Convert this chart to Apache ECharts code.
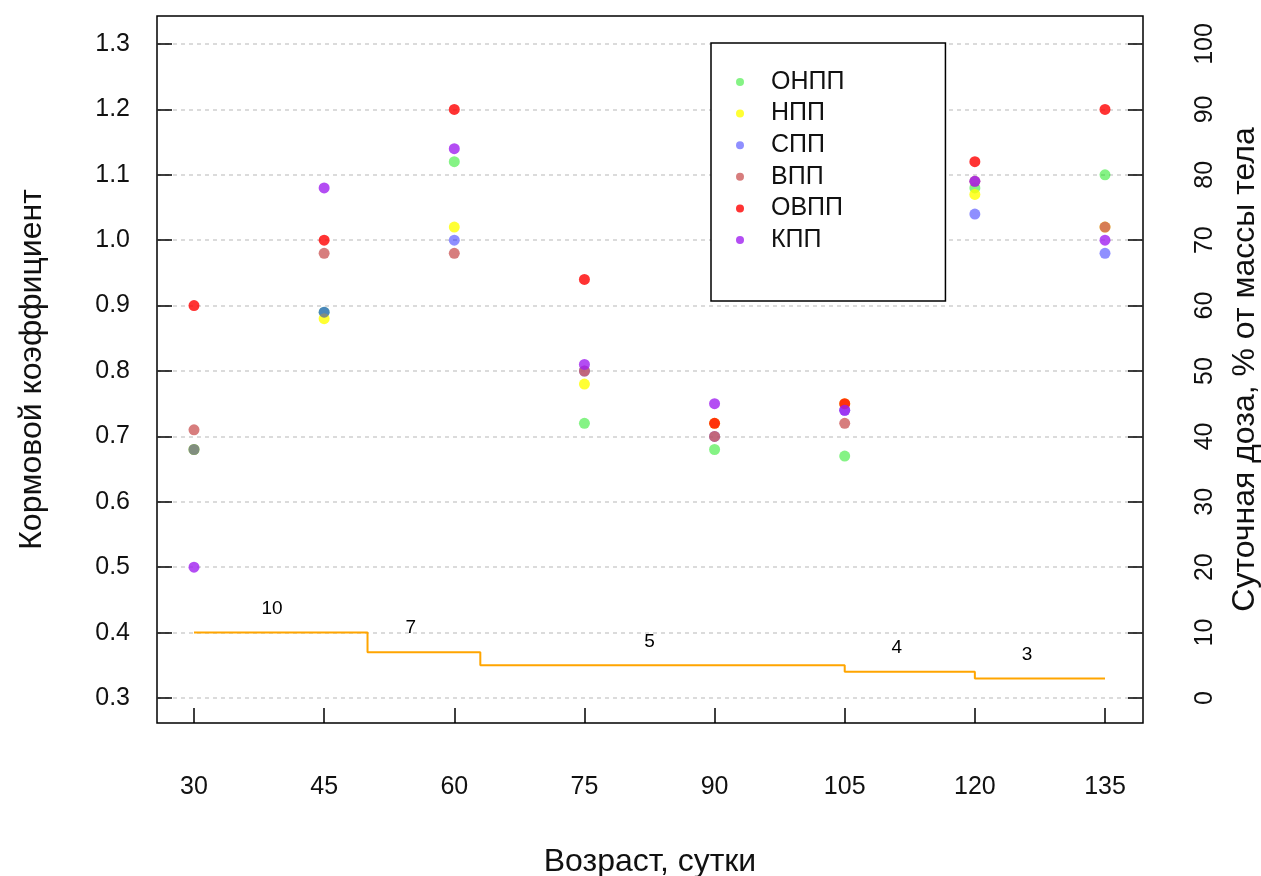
<!DOCTYPE html>
<html>
<head>
<meta charset="utf-8">
<script src="https://cdn.jsdelivr.net/npm/echarts@6/dist/echarts.min.js"></script>
<style>
  html, body { margin: 0; padding: 0; background: #fff; }
  #chart { width: 1261px; height: 876px; }
</style>
</head>
<body>
<div id="chart"></div>
<script>
// Age of the birds, days
const ages = [30, 45, 60, 75, 90, 105, 120, 135];

// Feed conversion ratio by treatment group
const onpp = [0.68, 0.89, 1.12, 0.72, 0.68, 0.67, 1.08, 1.10];
const npp  = [0.68, 0.88, 1.02, 0.78, 0.72, 0.75, 1.07, 1.02];
const spp  = [0.68, 0.89, 1.00, 0.80, 0.70, 0.74, 1.04, 0.98];
const vpp  = [0.71, 0.98, 0.98, 0.80, 0.70, 0.72, 1.09, 1.02];
const ovpp = [0.90, 1.00, 1.20, 0.94, 0.72, 0.75, 1.12, 1.20];
const kpp  = [0.50, 1.08, 1.14, 0.81, 0.75, 0.74, 1.09, 1.00];

// Daily dose, % of body mass: step boundaries (days) and value per step
const doseBreaks = [30, 50, 63, 105, 120, 135];
const doseValues = [10, 7, 5, 4, 3];
const doseLabelX = [39, 55, 82.5, 111, 126];

// Axis ticks
const xTicks = [30, 45, 60, 75, 90, 105, 120, 135];
const leftTicks = [0.3, 0.4, 0.5, 0.6, 0.7, 0.8, 0.9, 1.0, 1.1, 1.2, 1.3];
const rightTicks = [0, 10, 20, 30, 40, 50, 60, 70, 80, 90, 100];

const groups = [
  { name: 'ОНПП', values: onpp, color: 'rgba(0,230,0,0.6)' },
  { name: 'НПП',  values: npp,  color: '#ffff00' },
  { name: 'СПП',  values: spp,  color: 'rgba(0,0,255,0.55)' },
  { name: 'ВПП',  values: vpp,  color: '#cd5c5c' },
  { name: 'ОВПП', values: ovpp, color: '#ff0000' },
  { name: 'КПП',  values: kpp,  color: '#a020f0' }
];

const FONT = 'Liberation Sans, Arial, sans-serif';
const TXT = '#111';

const stepData = doseBreaks.map((x, i) => [x, doseValues[Math.min(i, doseValues.length - 1)]]);
const stepLabels = doseLabelX.map((x, i) => [x, doseValues[i]]);

const series = [
  {
    // horizontal dotted grid at the left-axis ticks
    type: 'scatter',
    name: '_grid',
    data: [],
    z: 0,
    silent: true,
    markLine: {
      silent: true,
      z: 0,
      symbol: ['none', 'none'],
      label: { show: false },
      lineStyle: { color: '#cfcfcf', type: [4, 4], width: 1.5 },
      emphasis: { disabled: true },
      animation: false,
      data: leftTicks.map(v => ({ yAxis: v }))
    }
  },
  {
    type: 'line',
    name: '_dose',
    yAxisIndex: 1,
    step: 'end',
    symbol: 'none',
    data: stepData,
    lineStyle: { color: '#ffa500', width: 2 },
    z: 1
  },
  {
    type: 'scatter',
    name: '_doseLabels',
    yAxisIndex: 1,
    symbolSize: 0,
    data: stepLabels,
    itemStyle: { opacity: 1 },
    label: {
      show: true,
      position: 'inside',
      offset: [0, -24],
      formatter: p => String(p.value[1]),
      fontFamily: FONT,
      fontSize: 19,
      color: '#000',
      opacity: 1
    },
    z: 1
  }
].concat(groups.map(g => ({
  type: 'scatter',
  name: g.name,
  symbol: 'circle',
  symbolSize: 11,
  itemStyle: { color: g.color },
  data: ages.map((a, i) => [a, g.values[i]]),
  z: 3
})));

const chart = echarts.init(document.getElementById('chart'), null, { renderer: 'canvas' });
chart.setOption({
  animation: false,
  backgroundColor: '#fff',
  textStyle: { fontFamily: FONT },
  grid: {
    left: 157, right: 118, top: 16, bottom: 153,
    containLabel: false,
    outerBoundsMode: 'none',
    show: true,
    borderColor: '#000',
    borderWidth: 1.5,
    backgroundColor: 'transparent'
  },
  legend: {
    data: groups.map(g => g.name),
    orient: 'vertical',
    left: 711,
    top: 43,
    padding: [24, 101, 46, 25],
    itemWidth: 8,
    itemHeight: 8,
    itemGap: 1.6,
    backgroundColor: '#fff',
    borderColor: '#000',
    borderWidth: 1.5,
    borderRadius: 0,
    textStyle: { fontFamily: FONT, fontSize: 25, color: TXT, lineHeight: 30, padding: [0, 0, 0, 22] },
    selectedMode: false
  },
  xAxis: {
    type: 'value',
    min: 25.735,
    max: 139.38,
    name: 'Возраст, сутки',
    nameLocation: 'middle',
    nameGap: 123,
    nameTextStyle: { fontFamily: FONT, fontSize: 32, color: TXT },
    axisLine: { show: false, onZero: false },
    axisTick: { show: true, inside: true, length: 15, customValues: xTicks, lineStyle: { color: '#000', width: 1.5 } },
    axisLabel: { customValues: xTicks, margin: 52, fontFamily: FONT, fontSize: 25, color: TXT },
    splitLine: { show: false }
  },
  yAxis: [
    {
      type: 'value',
      position: 'left',
      min: 0.2618,
      max: 1.3428,
      name: 'Кормовой коэффициент',
      nameLocation: 'middle',
      nameGap: 109,
      nameTextStyle: { fontFamily: FONT, fontSize: 32, color: TXT },
      axisLine: { show: false, onZero: false },
      axisTick: { show: true, inside: true, length: 15, customValues: leftTicks, lineStyle: { color: '#000', width: 1.5 } },
      axisLabel: { customValues: leftTicks, margin: 27, fontFamily: FONT, fontSize: 25, color: TXT, formatter: v => v.toFixed(1) },
      splitLine: { show: false }
    },
    {
      type: 'value',
      position: 'right',
      min: -3.82,
      max: 104.28,
      name: 'Суточная доза, % от массы тела',
      nameLocation: 'middle',
      nameGap: 86,
      nameTextStyle: { fontFamily: FONT, fontSize: 32, color: TXT },
      axisLine: { show: false, onZero: false },
      axisTick: { show: true, inside: true, length: 15, customValues: rightTicks, lineStyle: { color: '#000', width: 1.5 } },
      axisLabel: { customValues: rightTicks, rotate: 90, margin: 50, fontFamily: FONT, fontSize: 25, color: TXT },
      splitLine: { show: false }
    }
  ],
  series: series
});
</script>
</body>
</html>
